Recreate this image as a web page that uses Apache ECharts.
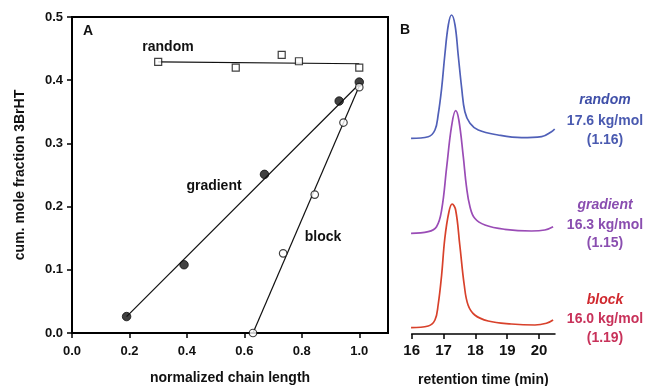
<!DOCTYPE html>
<html><head><meta charset="utf-8">
<script src="https://cdn.jsdelivr.net/npm/echarts@6/dist/echarts.min.js"></script>
<style>html,body{margin:0;padding:0;background:#fff}#c{width:650px;height:386px}</style>
</head><body><div id="c"></div>
<script>
// Panel A: cumulative mole fraction vs normalized chain length
const randomPts = [[0.30,0.429],[0.57,0.420],[0.73,0.440],[0.79,0.430],[1.00,0.420]];
const gradientPts = [[0.19,0.026],[0.39,0.108],[0.67,0.251],[0.93,0.367],[1.00,0.397]];
const blockPts = [[0.63,0.000],[0.735,0.126],[0.845,0.219],[0.945,0.333],[1.00,0.389]];
const randomFit = [[0.30,0.429],[1.00,0.426]];
const gradientFit = [[0.19,0.026],[1.00,0.394]];
const blockFit = [[0.63,0.000],[1.00,0.391]];
const xTicksA = [0.0,0.2,0.4,0.6,0.8,1.0];
const yTicksA = [0.0,0.1,0.2,0.3,0.4,0.5];

// Panel B: SEC traces (retention time, detector signal incl. vertical offset)
const randomTrace = [[15.98,195.7],[16.52,197.3],[16.73,204],[16.83,219],[16.94,245.7],[17.04,279],[17.15,309],[17.25,319],[17.36,309],[17.46,279],[17.57,245.7],[17.67,222.3],[17.83,210.7],[18.09,204],[18.71,199],[19.45,196.3],[20.08,197.3],[20.39,202.3],[20.49,205]];
const gradientTrace = [[15.98,100.7],[16.52,102.3],[16.78,107.3],[16.94,124],[17.10,167.3],[17.25,207.3],[17.38,223.3],[17.48,214],[17.62,177.3],[17.72,147.3],[17.83,127.3],[17.98,115.7],[18.30,109],[18.92,104.7],[19.76,103],[20.18,104],[20.44,107.3]];
const blockTrace = [[15.98,6.3],[16.52,8],[16.73,14],[16.83,29],[16.94,59],[17.04,95.7],[17.17,122.3],[17.27,130],[17.38,124],[17.51,89],[17.65,49],[17.77,29],[17.98,19],[18.40,13],[19.13,10],[19.87,9],[20.23,10.7],[20.44,14]];
const xTicksB = [16,17,18,19,20];
const labelsB = [
  {name:'random', mw:'17.6 kg/mol', pdi:'(1.16)'},
  {name:'gradient', mw:'16.3 kg/mol', pdi:'(1.15)'},
  {name:'block', mw:'16.0 kg/mol', pdi:'(1.19)'}
];

const FONT = '"Liberation Sans", Arial, sans-serif';
const chart = echarts.init(document.getElementById('c'), null, {renderer:'canvas'});

const axisFont = {fontFamily:FONT, fontWeight:'bold', color:'#111'};

const option = {
  animation:false,
  backgroundColor:'#fff',
  grid:[
    {left:72, top:17, width:316, height:316, show:true, borderColor:'#000', borderWidth:2, backgroundColor:'transparent', outerBoundsMode:'none', containLabel:false},
    {left:411.7, top:14, width:143.3, height:320, show:false, outerBoundsMode:'none', containLabel:false}
  ],
  xAxis:[
    {gridIndex:0, type:'value', min:0, max:1.1, interval:0.2,
     name:'normalized chain length', nameLocation:'middle', nameGap:38,
     nameTextStyle:Object.assign({fontSize:14}, axisFont),
     axisLine:{show:true, lineStyle:{color:'#000', width:2}},
     axisTick:{show:true, length:5, lineStyle:{color:'#000', width:1.5}},
     axisLabel:Object.assign({fontSize:13, margin:12, showMaxLabel:false,
        formatter:v => xTicksA.some(t=>Math.abs(t-v)<1e-9) ? v.toFixed(1) : ''}, axisFont),
     splitLine:{show:false}},
    {gridIndex:1, type:'value', min:16, max:20.5, interval:1,
     name:'retention time (min)', nameLocation:'middle', nameGap:39,
     nameTextStyle:Object.assign({fontSize:14}, axisFont),
     axisLine:{show:true, lineStyle:{color:'#000', width:1.5}},
     axisTick:{show:true, length:5, lineStyle:{color:'#000', width:1.5}},
     axisLabel:Object.assign({fontSize:15, margin:9, showMaxLabel:false,
        formatter:v => xTicksB.includes(v) ? String(v) : ''}, axisFont),
     splitLine:{show:false}},
  ],
  yAxis:[
    {gridIndex:0, type:'value', min:0, max:0.5, interval:0.1,
     name:'cum. mole fraction 3BrHT', nameLocation:'middle', nameGap:45,
     nameTextStyle:Object.assign({fontSize:14}, axisFont),
     axisLine:{show:true, lineStyle:{color:'#000', width:2}},
     axisTick:{show:true, length:5, lineStyle:{color:'#000', width:1.5}},
     axisLabel:Object.assign({fontSize:13, margin:9,
        formatter:v => yTicksA.some(t=>Math.abs(t-v)<1e-9) ? v.toFixed(1) : ''}, axisFont),
     splitLine:{show:false}},
    {gridIndex:1, type:'value', min:0, max:320, show:false}
  ],
  series:[
    {type:'line', xAxisIndex:0, yAxisIndex:0, data:randomFit, symbol:'none', lineStyle:{color:'#111', width:1.2}, z:2},
    {type:'line', xAxisIndex:0, yAxisIndex:0, data:gradientFit, symbol:'none', lineStyle:{color:'#111', width:1.2}, z:2},
    {type:'line', xAxisIndex:0, yAxisIndex:0, data:blockFit, symbol:'none', lineStyle:{color:'#111', width:1.2}, z:2},
    {type:'scatter', xAxisIndex:0, yAxisIndex:0, data:randomPts, symbol:'rect', symbolSize:7,
     itemStyle:{color:'#fff', borderColor:'#111', borderWidth:1.2}, z:5},
    {type:'scatter', xAxisIndex:0, yAxisIndex:0, data:gradientPts, symbol:'circle', symbolSize:8.5,
     itemStyle:{color:'#111', borderColor:'#111', borderWidth:1}, z:5},
    {type:'scatter', xAxisIndex:0, yAxisIndex:0, data:blockPts, symbol:'circle', symbolSize:7.5,
     itemStyle:{color:'#fff', borderColor:'#111', borderWidth:1.2}, z:5},
    {type:'line', xAxisIndex:1, yAxisIndex:1, data:randomTrace, smooth:0.4, symbol:'none', lineStyle:{color:'#5060b8', width:1.7}},
    {type:'line', xAxisIndex:1, yAxisIndex:1, data:gradientTrace, smooth:0.4, symbol:'none', lineStyle:{color:'#9a4cb6', width:1.7}},
    {type:'line', xAxisIndex:1, yAxisIndex:1, data:blockTrace, smooth:0.4, symbol:'none', lineStyle:{color:'#d8412b', width:1.7}}
  ],
  graphic:[
    {type:'text', left:83, top:24, style:{text:'A', font:'bold 14px '+FONT, fill:'#111'}},
    {type:'text', left:400, top:23, style:{text:'B', font:'bold 14px '+FONT, fill:'#111'}},
    {type:'text', x:168, y:47, style:{text:'random', font:'bold 14px '+FONT, fill:'#111', align:'center', verticalAlign:'middle'}},
    {type:'text', x:214, y:186, style:{text:'gradient', font:'bold 14px '+FONT, fill:'#111', align:'center', verticalAlign:'middle'}},
    {type:'text', x:323, y:237, style:{text:'block', font:'bold 14px '+FONT, fill:'#111', align:'center', verticalAlign:'middle'}},

    {type:'text', x:605, y:100, style:{text:labelsB[0].name, font:'italic bold 14px '+FONT, fill:'#3f4fa8', align:'center', verticalAlign:'middle'}},
    {type:'text', x:605, y:121, style:{text:labelsB[0].mw, font:'bold 14px '+FONT, fill:'#4a5ab0', align:'center', verticalAlign:'middle'}},
    {type:'text', x:605, y:140, style:{text:labelsB[0].pdi, font:'bold 14px '+FONT, fill:'#4a5ab0', align:'center', verticalAlign:'middle'}},

    {type:'text', x:605, y:205, style:{text:labelsB[1].name, font:'italic bold 14px '+FONT, fill:'#8a4eb0', align:'center', verticalAlign:'middle'}},
    {type:'text', x:605, y:225, style:{text:labelsB[1].mw, font:'bold 14px '+FONT, fill:'#8a4eb0', align:'center', verticalAlign:'middle'}},
    {type:'text', x:605, y:243, style:{text:labelsB[1].pdi, font:'bold 14px '+FONT, fill:'#8a4eb0', align:'center', verticalAlign:'middle'}},

    {type:'text', x:605, y:300, style:{text:labelsB[2].name, font:'italic bold 14px '+FONT, fill:'#d0282e', align:'center', verticalAlign:'middle'}},
    {type:'text', x:605, y:319, style:{text:labelsB[2].mw, font:'bold 14px '+FONT, fill:'#c8325a', align:'center', verticalAlign:'middle'}},
    {type:'text', x:605, y:338, style:{text:labelsB[2].pdi, font:'bold 14px '+FONT, fill:'#c8325a', align:'center', verticalAlign:'middle'}}
  ]
};
chart.setOption(option);
</script>
</body></html>
